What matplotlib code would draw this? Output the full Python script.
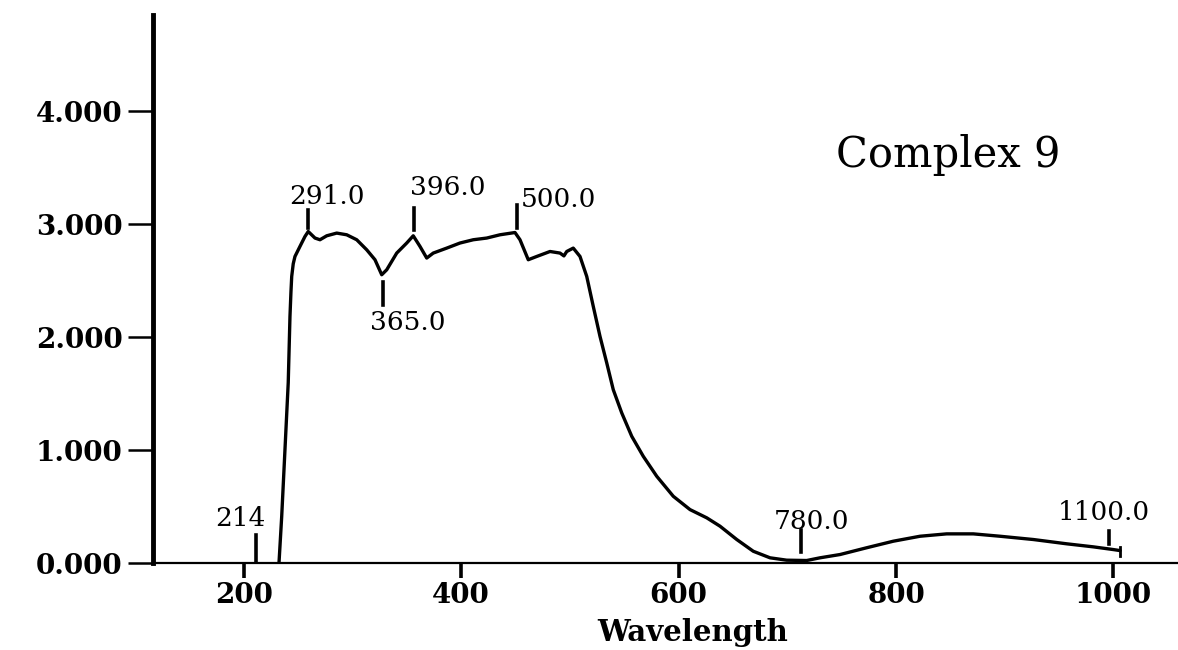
import matplotlib
matplotlib.use("Agg")
import matplotlib.pyplot as plt

# ---- data ----
wavelength = [232.4, 234.9, 237.9, 240.9, 242.5, 243.4, 244.1, 245.5, 247.1, 251.7,
              256.3, 259.3, 265.5, 270.1, 276.3, 285.5, 294.7, 303.9, 313.1, 320.7,
              326.9, 331.5, 340.7, 349.9, 355.9, 362.1, 368.3, 374.3, 386.7, 398.9,
              411.1, 423.5, 435.7, 449.5, 454.1, 461.7, 469.5, 481.7, 490.9, 494.5,
              497.1, 503.1, 509.3, 515.5, 521.5, 527.7, 533.9, 539.9, 547.7, 556.9,
              567.5, 579.9, 595.1, 610.5, 625.9, 638.1, 653.5, 668.7, 684.1, 699.4,
              717.8, 730.1, 748.5, 773.0, 797.5, 822.1, 846.6, 871.1, 895.7, 926.3,
              957.0, 981.5, 999.9, 1006.1]
absorbance = [0.000, 0.414, 1.004, 1.597, 2.184, 2.400, 2.538, 2.650, 2.715, 2.804,
              2.892, 2.936, 2.878, 2.863, 2.898, 2.922, 2.907, 2.863, 2.774, 2.686,
              2.553, 2.597, 2.745, 2.834, 2.898, 2.804, 2.701, 2.745, 2.789, 2.834,
              2.863, 2.878, 2.907, 2.927, 2.863, 2.686, 2.715, 2.759, 2.745, 2.720,
              2.759, 2.789, 2.715, 2.538, 2.273, 2.007, 1.772, 1.535, 1.329, 1.122,
              0.945, 0.768, 0.591, 0.473, 0.400, 0.326, 0.208, 0.104, 0.046, 0.025,
              0.022, 0.046, 0.075, 0.135, 0.193, 0.237, 0.258, 0.258, 0.237, 0.208,
              0.170, 0.143, 0.119, 0.110]

x_ticks = [200, 400, 600, 800, 1000]
y_ticks = [0, 1, 2, 3, 4]
y_tick_labels = ["0.000", "1.000", "2.000", "3.000", "4.000"]

# peak markers: label, marker x, marker y-range, label x, label y
peak_labels = ["214", "291.0", "396.0", "500.0", "365.0", "780.0", "1100.0"]
peak_mark_x = [211.2, 259.3, 356.6, 451.1, 327.8, 712.6, 995.5]
peak_mark_y0 = [0.0, 2.969, 2.951, 2.969, 2.288, 0.093, 0.164]
peak_mark_y1 = [0.252, 3.128, 3.146, 3.173, 2.491, 0.288, 0.281]
peak_text_x = [196.6, 276.5, 387.7, 489.1, 351.0, 722.6, 991.4]
peak_text_y = [0.394, 3.243, 3.323, 3.217, 2.128, 0.367, 0.447]

title_text = "Complex 9"
x_label = "Wavelength"

# ---- figure ----
fig = plt.figure(figsize=(11.78, 6.5), dpi=100)
ax = fig.add_axes([153 / 1178, 87 / 650, 1025 / 1178, 548.5 / 650])

ax.plot(wavelength, absorbance, color="black", lw=2.4,
        solid_joinstyle="round", solid_capstyle="round")

for xm, y0, y1 in zip(peak_mark_x, peak_mark_y0, peak_mark_y1):
    ax.plot([xm, xm], [y0, y1], color="black", lw=2.6)
# small end marker
ax.plot([1006.3, 1006.3], [0.060, 0.145], color="black", lw=2.0)

for lab, tx, ty in zip(peak_labels, peak_text_x, peak_text_y):
    ax.text(tx, ty, lab, ha="center", va="center", fontsize=19,
            family="DejaVu Serif", color="black")

ax.text(847.8, 3.615, title_text, ha="center", va="center", fontsize=30,
        family="DejaVu Serif", color="black")

ax.set_xlim(116.5, 1059.4)
ax.set_ylim(0, 4.858)

ax.set_xticks(x_ticks)
ax.set_xticklabels([str(v) for v in x_ticks])
ax.set_yticks(y_ticks)
ax.set_yticklabels(y_tick_labels)

for lab in ax.get_xticklabels() + ax.get_yticklabels():
    lab.set_family("DejaVu Serif")
    lab.set_fontweight("bold")
    lab.set_fontsize(20)

ax.tick_params(axis="y", direction="out", length=18, width=1.8, pad=4)
ax.tick_params(axis="x", direction="out", length=11, width=2.6, pad=3)

ax.spines["top"].set_visible(False)
ax.spines["right"].set_visible(False)
ax.spines["left"].set_linewidth(3.5)
ax.spines["bottom"].set_linewidth(1.6)

ax.set_xlabel(x_label, family="DejaVu Serif", fontweight="bold", fontsize=21, va="center")
ax.xaxis.set_label_coords(0.526, -0.126)

fig.savefig("out.png", dpi=100)
